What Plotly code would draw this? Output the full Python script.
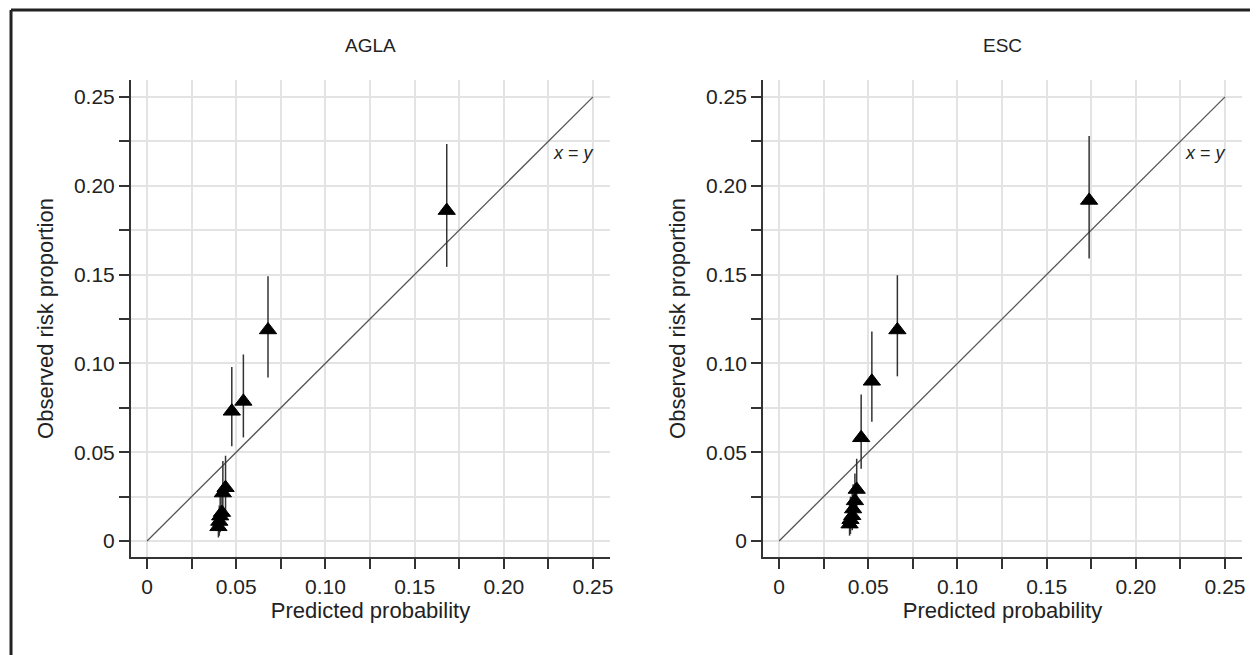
import plotly.graph_objects as go
from plotly.subplots import make_subplots

# ---- data ----
panel_titles = ["AGLA", "ESC"]

agla_pred = [0.1680, 0.0678, 0.0540, 0.0475, 0.0440, 0.0425, 0.0420, 0.0410, 0.0405, 0.0400]
agla_obs = [0.1860, 0.1188, 0.0786, 0.0730, 0.0300, 0.0270, 0.0160, 0.0140, 0.0110, 0.0080]
agla_lo = [0.1543, 0.0920, 0.0583, 0.0534, 0.0170, 0.0150, 0.0060, 0.0050, 0.0030, 0.0020]
agla_hi = [0.2235, 0.1490, 0.1050, 0.0980, 0.0480, 0.0450, 0.0280, 0.0250, 0.0200, 0.0160]

esc_pred = [0.1738, 0.0663, 0.0520, 0.0460, 0.0435, 0.0425, 0.0415, 0.0410, 0.0400, 0.0395]
esc_obs = [0.1917, 0.1188, 0.0899, 0.0581, 0.0290, 0.0226, 0.0180, 0.0142, 0.0120, 0.0095]
esc_lo = [0.1590, 0.0927, 0.0671, 0.0407, 0.0180, 0.0120, 0.0090, 0.0060, 0.0040, 0.0030]
esc_hi = [0.2280, 0.1496, 0.1179, 0.0824, 0.0463, 0.0380, 0.0320, 0.0280, 0.0250, 0.0210]

tick_vals = [0, 0.05, 0.10, 0.15, 0.20, 0.25]
tick_text = ["0", "0.05", "0.10", "0.15", "0.20", "0.25"]
ref_line = [0, 0.25]
ref_label = "<i>x</i> = <i>y</i>"

x_label = "Predicted probability"
y_label = "Observed risk proportion"

FONT = "Liberation Sans, Arial, Helvetica, sans-serif"
GRID = "#e3e3e3"
AXIS = "#333333"
TXT = "#222222"

fig = make_subplots(rows=1, cols=2, horizontal_spacing=0.1378)
fig.update_xaxes(domain=[0, 0.4311], row=1, col=1)
fig.update_xaxes(domain=[0.5689, 1.0], row=1, col=2)

panels = [(agla_pred, agla_obs, agla_lo, agla_hi), (esc_pred, esc_obs, esc_lo, esc_hi)]
for i, (px_, ob, lo, hi) in enumerate(panels, start=1):
    # reference line x = y
    fig.add_trace(go.Scatter(x=ref_line, y=ref_line, mode="lines",
                             line=dict(color="#555555", width=1.3),
                             hoverinfo="skip", showlegend=False), row=1, col=i)
    fig.add_trace(go.Scatter(
        x=px_, y=ob, mode="markers",
        marker=dict(symbol="triangle-up", size=15, color="black",
                    line=dict(color="black", width=1)),
        error_y=dict(type="data", symmetric=False,
                     array=[h - o for h, o in zip(hi, ob)],
                     arrayminus=[o - l for o, l in zip(ob, lo)],
                     color="#333333", thickness=1.5, width=0),
        showlegend=False), row=1, col=i)

axis_common = dict(
    range=[-0.009, 0.2595], tickvals=tick_vals, ticktext=tick_text,
    showgrid=True, gridcolor=GRID, gridwidth=2, zeroline=False,
    showline=True, linecolor=AXIS, linewidth=2,
    ticks="outside", ticklen=10, tickwidth=1.5, tickcolor=AXIS,
    minor=dict(dtick=0.025, tick0=0, ticks="outside", ticklen=10, tickwidth=1.5,
               tickcolor=AXIS, showgrid=True, gridcolor=GRID, gridwidth=2),
    tickfont=dict(family=FONT, size=21, color=TXT),
)
for i in (1, 2):
    fig.update_xaxes(**axis_common, title=dict(text=x_label, standoff=4,
                     font=dict(family=FONT, size=22, color=TXT)), row=1, col=i)
    fig.update_yaxes(**axis_common, domain=[0, 1],
                     title=dict(text=y_label, standoff=14,
                                font=dict(family=FONT, size=22, color=TXT)), row=1, col=i)

# panel titles and x = y labels
xrefs = ["x", "x2"]
yrefs = ["y", "y2"]
for i in range(2):
    dom = fig.layout["xaxis" if i == 0 else "xaxis2"].domain
    fig.add_annotation(text=panel_titles[i], xref="paper", yref="paper",
                       x=(dom[0] + dom[1]) / 2, y=1.073, xanchor="center", yanchor="middle",
                       showarrow=False, font=dict(family=FONT, size=19, color=TXT))
    fig.add_annotation(text=ref_label, xref=xrefs[i], yref=yrefs[i],
                       x=0.2517, y=0.2186, xanchor="right", yanchor="middle",
                       showarrow=False, font=dict(family=FONT, size=18, color=TXT))

# outer frame (open at right and bottom, as cropped)
fig.add_shape(type="line", xref="paper", yref="paper", x0=-0.108, x1=1.2, y0=1.1468, y1=1.1468,
              line=dict(color="#222222", width=3))
fig.add_shape(type="line", xref="paper", yref="paper", x0=-0.108, x1=-0.108, y0=1.1468, y1=-0.3,
              line=dict(color="#222222", width=3))

fig.update_layout(
    width=1250, height=647,
    margin=dict(l=123, r=16, t=72, b=98),
    paper_bgcolor="white", plot_bgcolor="white",
    font=dict(family=FONT, color=TXT),
)

fig.write_html("out.html")
